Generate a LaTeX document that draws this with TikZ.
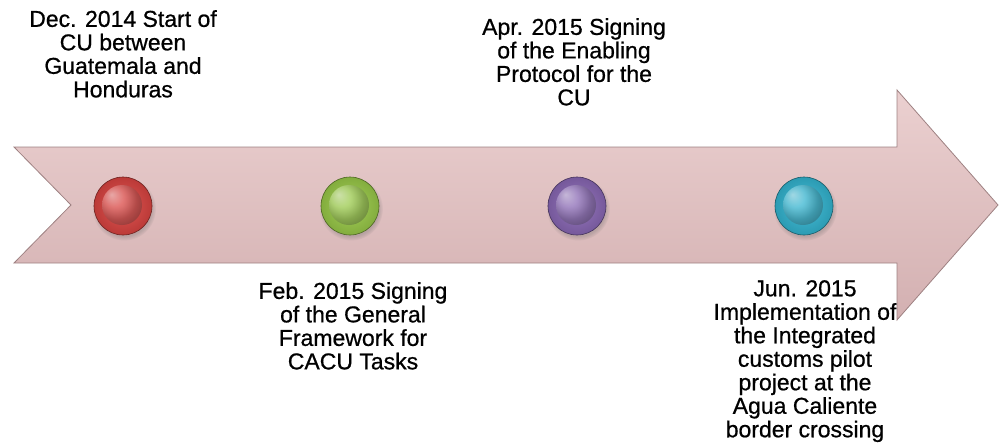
\documentclass[tikz,border=0pt]{standalone}
\usepackage{fontspec}
\setmainfont[FakeBold=0.7]{Liberation Sans}
\usetikzlibrary{shadows}
\definecolor{arrtop}{HTML}{EBD0D0}
\definecolor{arrbot}{HTML}{D3B0B1}
\definecolor{arredge}{HTML}{9E8182}
\definecolor{cred}{HTML}{DC4441}
\definecolor{cgreen}{HTML}{9ACB48}
\definecolor{cpurple}{HTML}{8A68B6}
\definecolor{ccyan}{HTML}{33B6D2}
\begin{document}
\begin{tikzpicture}[x=1pt,y=-1pt,
  lbl/.style={align=center,font=\fontsize{23}{23.5}\selectfont,inner sep=0pt,anchor=north},
  dot/.style={circle,minimum size=58pt,inner sep=0pt,
    draw=#1!50!black,line width=0.6pt,
    shading=radial,inner color=#1!90!white,outer color=#1!85!black,
    circular drop shadow={shadow xshift=1pt,shadow yshift=-2.5pt,opacity=0.3,fill=black!60},
    path picture={\shade[ball color=#1!80!white,opacity=0.6]
      ([xshift=-1pt,yshift=1pt]path picture bounding box.center) circle (20);}}]
\useasboundingbox (0,0) rectangle (1000,442);
\draw[draw=arredge,line width=0.8pt,top color=arrtop,bottom color=arrbot]
  (14,147) -- (897,147) -- (897,90) -- (998,205) -- (897,320) -- (897,263)
  -- (14,263) -- (71,205) -- cycle;
\node[dot=cred] (d1) at (123,206) {};
\node[dot=cgreen] (d2) at (350,206) {};
\node[dot=cpurple] (d3) at (577,206) {};
\node[dot=ccyan] (d4) at (804,206) {};
\node[lbl] (t1) at (123,10) {Dec. 2014 Start of\\CU between\\Guatemala and\\Honduras};
\node[lbl] (t3) at (574,18) {Apr. 2015 Signing\\of the Enabling\\Protocol for the\\CU};
\node[lbl] (t2) at (353,282) {Feb. 2015 Signing\\of the General\\Framework for\\CACU Tasks};
\node[lbl] (t4) at (805,280) {Jun. 2015\\Implementation of\\the Integrated\\customs pilot\\project at the\\Agua Caliente\\border crossing};
\end{tikzpicture}
\end{document}
